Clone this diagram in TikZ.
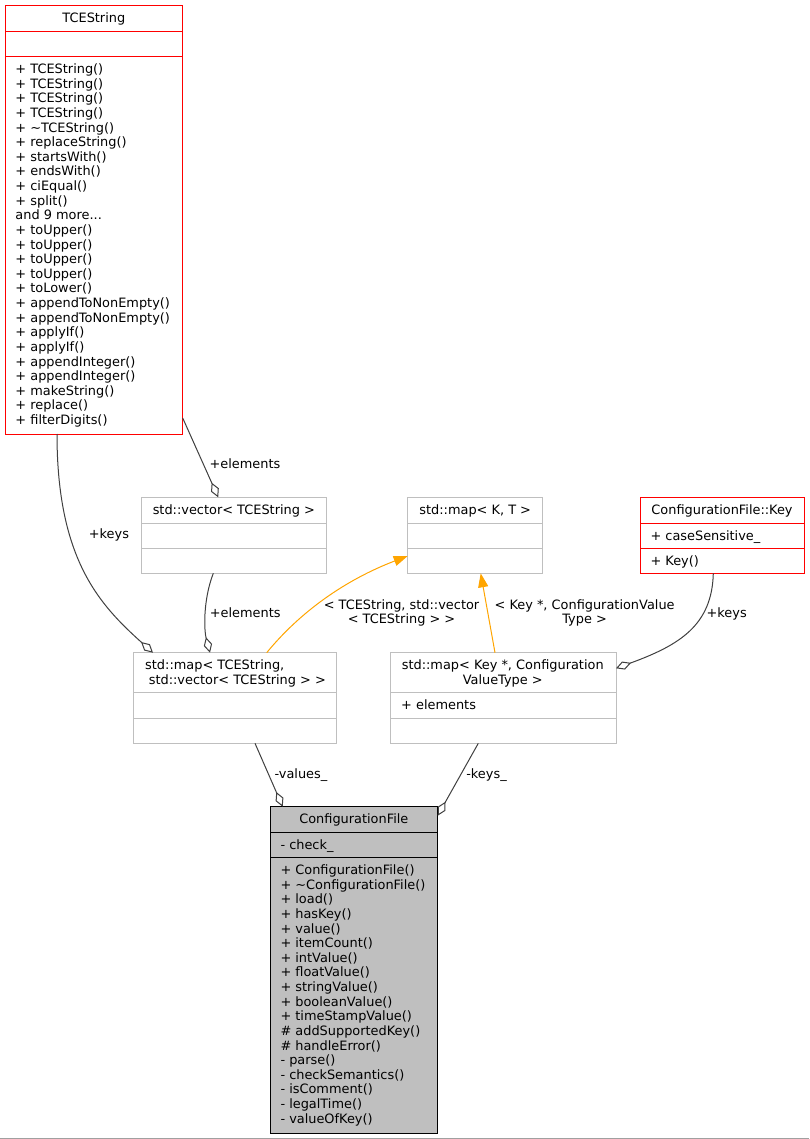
\documentclass[tikz,border=0pt]{standalone}
\usepackage{fontspec}
\setmainfont{DejaVu Sans}
\usetikzlibrary{calc,arrows.meta}
\definecolor{dgray}{HTML}{404040}
\definecolor{boxgray}{HTML}{BFBFBF}
\definecolor{edgeorange}{HTML}{FFA500}
\definecolor{framegray}{HTML}{A0A0A0}
\newcommand\dfont{\fontsize{12.9}{14.625}\selectfont}
\newcommand\mlist[1]{\begin{tabular}[t]{@{}l@{}}#1\end{tabular}}
\newcommand\clist[1]{\begin{tabular}[t]{@{}c@{}}#1\end{tabular}}
\tikzset{
  umlbox/.style={draw=#1, line width=1pt, rectangle, inner sep=0pt, outer sep=0pt, anchor=north west},
  ttl/.style={anchor=base, inner sep=0pt, font=\dfont},
  mem/.style={anchor=base west, inner sep=0pt, font=\dfont},
  lbl/.style={anchor=base west, inner sep=0pt, font=\dfont},
  clbl/.style={anchor=base, inner sep=0pt, font=\dfont},
  assoc/.style={draw=dgray, line width=1pt, -{Diamond[open, length=16pt, width=8.5pt, line width=1pt]}},
  inherit/.style={draw=edgeorange, line width=1pt, -{Triangle[length=14pt, width=10pt]}},
}
\begin{document}
\begin{tikzpicture}[x=1pt,y=-1pt]
\fill[white] (0,0) rectangle (809,1139);
\useasboundingbox (0,0) rectangle (809,1139);
\draw[framegray, line width=1pt] (0,1138.5) -- (809,1138.5);

% ---------- TCEString ----------
\node[umlbox=red, minimum width=177.7pt, minimum height=428.3pt] (tce) at (5,5.7) {};
\draw[red, line width=1pt] ($(tce.north west)+(0,26)$) -- ($(tce.north east)+(0,26)$);
\draw[red, line width=1pt] ($(tce.north west)+(0,51)$) -- ($(tce.north east)+(0,51)$);
\node[ttl] (tcet) at ($(tce.north)+(0,16.9)$) {TCEString};
\node[mem] (tcem) at ($(tce.north west)+(10.3,67.9)$) {\mlist{%
+ TCEString()\\
+ TCEString()\\
+ TCEString()\\
+ TCEString()\\
+ \textasciitilde TCEString()\\
+ replaceString()\\
+ startsWith()\\
+ endsWith()\\
+ ciEqual()\\
+ split()\\
and 9 more...\\
+ toUpper()\\
+ toUpper()\\
+ toUpper()\\
+ toUpper()\\
+ toLower()\\
+ appendToNonEmpty()\\
+ appendToNonEmpty()\\
+ applyIf()\\
+ applyIf()\\
+ appendInteger()\\
+ appendInteger()\\
+ makeString()\\
+ replace()\\
+ filterDigits()}};

% ---------- std::vector ----------
\node[umlbox=boxgray, minimum width=184.3pt, minimum height=76pt] (vec) at (141.7,497.3) {};
\draw[boxgray, line width=1pt] ($(vec.north west)+(0,26)$) -- ($(vec.north east)+(0,26)$);
\draw[boxgray, line width=1pt] ($(vec.north west)+(0,51)$) -- ($(vec.north east)+(0,51)$);
\node[ttl] (vect) at ($(vec.north)+(0,16.9)$) {std::vector< TCEString >};

% ---------- std::map<K,T> ----------
\node[umlbox=boxgray, minimum width=135pt, minimum height=76pt] (mkt) at (407.7,497.3) {};
\draw[boxgray, line width=1pt] ($(mkt.north west)+(0,26)$) -- ($(mkt.north east)+(0,26)$);
\draw[boxgray, line width=1pt] ($(mkt.north west)+(0,51)$) -- ($(mkt.north east)+(0,51)$);
\node[ttl] (mktt) at ($(mkt.north)+(0,16.9)$) {std::map< K, T >};

% ---------- ConfigurationFile::Key ----------
\node[umlbox=red, minimum width=164pt, minimum height=76pt] (key) at (640,497.3) {};
\draw[red, line width=1pt] ($(key.north west)+(0,26)$) -- ($(key.north east)+(0,26)$);
\draw[red, line width=1pt] ($(key.north west)+(0,51)$) -- ($(key.north east)+(0,51)$);
\node[ttl] (keyt) at ($(key.north)+(0,16.9)$) {ConfigurationFile::Key};
\node[mem] (keya) at ($(key.north west)+(10.3,42.9)$) {+ caseSensitive\_};
\node[mem] (keym) at ($(key.north west)+(10.3,67.9)$) {+ Key()};

% ---------- std::map<TCEString, vector> ----------
\node[umlbox=boxgray, minimum width=203.4pt, minimum height=90.6pt] (mtv) at (133.3,652.7) {};
\draw[boxgray, line width=1pt] ($(mtv.north west)+(0,39.6)$) -- ($(mtv.north east)+(0,39.6)$);
\draw[boxgray, line width=1pt] ($(mtv.north west)+(0,65.6)$) -- ($(mtv.north east)+(0,65.6)$);
\node[lbl] (mtvt1) at ($(mtv.north west)+(11.7,16.7)$) {std::map< TCEString,};
\node[lbl] (mtvt2) at ($(mtv.north west)+(15.3,31.3)$) {std::vector< TCEString > >};

% ---------- std::map<Key*, ConfigurationValueType> ----------
\node[umlbox=boxgray, minimum width=225.3pt, minimum height=90.6pt] (mkv) at (390.7,652.7) {};
\draw[boxgray, line width=1pt] ($(mkv.north west)+(0,39.6)$) -- ($(mkv.north east)+(0,39.6)$);
\draw[boxgray, line width=1pt] ($(mkv.north west)+(0,65.6)$) -- ($(mkv.north east)+(0,65.6)$);
\node[ttl] (mkvt) at ($(mkv.north)+(-0.6,16.7)$) {\clist{std::map< Key *, Configuration\\ValueType >}};
\node[mem] (mkva) at ($(mkv.north west)+(10.3,56.3)$) {+ elements};

% ---------- ConfigurationFile ----------
\node[umlbox=black, fill=boxgray, minimum width=167.7pt, minimum height=326.6pt] (cf) at (270,806.7) {};
\draw[black, line width=1pt] ($(cf.north west)+(0,26)$) -- ($(cf.north east)+(0,26)$);
\draw[black, line width=1pt] ($(cf.north west)+(0,51)$) -- ($(cf.north east)+(0,51)$);
\node[ttl] (cft) at ($(cf.north)+(0,16.9)$) {ConfigurationFile};
\node[mem] (cfa) at ($(cf.north west)+(10.3,42.9)$) {- check\_};
\node[mem] (cfm) at ($(cf.north west)+(10.3,67.9)$) {\mlist{%
+ ConfigurationFile()\\
+ \textasciitilde ConfigurationFile()\\
+ load()\\
+ hasKey()\\
+ value()\\
+ itemCount()\\
+ intValue()\\
+ floatValue()\\
+ stringValue()\\
+ booleanValue()\\
+ timeStampValue()\\
\# addSupportedKey()\\
\# handleError()\\
- parse()\\
- checkSemantics()\\
- isComment()\\
- legalTime()\\
- valueOfKey()}};

% ---------- connectors ----------
\draw[assoc] ($(tce.south east)+(0,-16)$) -- ($(vec.north west)+(76.5,0)$);
\node[lbl] (l1) at (209.4,468.3) {+elements};

\draw[assoc] ($(tce.south west)+(52,0)$) .. controls (57,560) and (100,605) .. ($(mtv.north west)+(19.7,0)$);
\node[lbl] (l2) at (88.7,538.5) {+keys};

\draw[assoc] ($(vec.south west)+(71.6,0)$) .. controls (203,600) and (204,630) .. ($(mtv.north west)+(76.7,0)$);
\node[lbl] (l3) at (209.7,617.3) {+elements};

\draw[inherit] ($(mtv.north west)+(133.4,0)$) .. controls (300,612) and (345,580) .. ($(mkt.north west)+(0,58.7)$);
\node[clbl] (l4) at (401.5,609.3) {\clist{< TCEString, std::vector\\< TCEString > >}};

\draw[inherit] ($(mkv.north west)+(104.3,0)$) -- ($(mkt.south west)+(73,0)$);
\node[clbl] (l5) at (584.6,609.3) {\clist{< Key *, ConfigurationValue\\Type >}};

\draw[assoc] ($(key.south west)+(73.3,0)$) .. controls (712,625) and (680,645) .. ($(mkv.north east)+(0,15.6)$);
\node[lbl] (l6) at (706.4,617.3) {+keys};

\draw[assoc] ($(mtv.south west)+(121.7,0)$) -- ($(cf.north west)+(12.7,0)$);
\node[lbl] (l7) at (274.4,778.3) {-values\_};

\draw[assoc] ($(mkv.south west)+(87.6,0)$) -- ($(cf.north east)+(0,9)$);
\node[lbl] (l8) at (466.1,778.3) {-keys\_};
\end{tikzpicture}
\end{document}
